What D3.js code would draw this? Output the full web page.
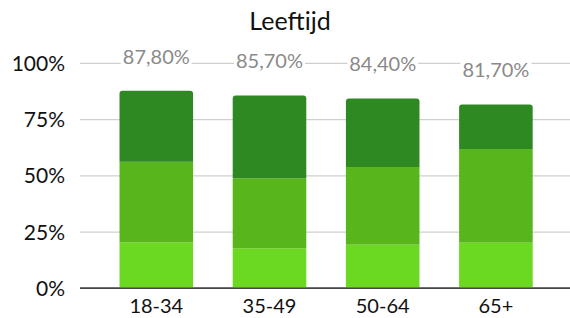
<!DOCTYPE html>
<html>
<head>
<meta charset="utf-8">
<script src="https://cdn.jsdelivr.net/npm/d3@7"></script>
<style>
  body { margin: 0; background: #fff; }
  svg { display: block; }
</style>
</head>
<body>
<div id="chart"></div>
<script>
// Leeftijd - stacked bars per age group

const categories = ["18-34", "35-49", "50-64", "65+"];
const seriesLight = [20.4, 17.8, 19.4, 20.3];
const seriesMid = [35.9, 31.1, 34.5, 41.6];
const seriesDark = [31.5, 36.8, 30.5, 19.8];
const totals = [87.8, 85.7, 84.4, 81.7];
const yTicks = [0, 25, 50, 75, 100];

const colors = ["#6bd821", "#58b51b", "#2f8922"];
const font = "Lato, 'Open Sans', sans-serif";

const width = 570, height = 318;

const svg = d3.select("#chart").append("svg")
    .attr("width", width)
    .attr("height", height);

const x = d3.scaleBand()
    .domain(categories)
    .range([99.7, 552.5])
    .paddingInner(0.35)
    .paddingOuter(0.175);

const y = d3.scaleLinear()
    .domain([0, 100])
    .range([288.3, 63.3]);

// title
svg.append("text")
    .attr("x", 290)
    .attr("y", 30)
    .attr("text-anchor", "middle")
    .attr("font-family", font)
    .attr("font-size", "25px")
    .attr("fill", "#111")
    .text("Leeftijd");

// gridlines + y labels
yTicks.forEach(t => {
    svg.append("line")
        .attr("x1", 80)
        .attr("x2", width)
        .attr("y1", y(t))
        .attr("y2", y(t))
        .attr("stroke", t === 0 ? "#444" : "#cfcfcf")
        .attr("stroke-width", t === 0 ? 1.5 : 1.2);

    svg.append("text")
        .attr("x", 65)
        .attr("y", y(t))
        .attr("dy", "0.36em")
        .attr("text-anchor", "end")
        .attr("font-family", font)
        .attr("font-size", "21px")
        .attr("fill", "#111")
        .text(t + "%");
});

const stack = d3.stack().keys([0, 1, 2]);
const rows = categories.map((c, i) => ({ cat: c, 0: seriesLight[i], 1: seriesMid[i], 2: seriesDark[i] }));
const layers = stack(rows);

// rounded top corners only for the top segment
function topRounded(x0, y0, w, h, r) {
    return `M${x0},${y0 + h}V${y0 + r}Q${x0},${y0} ${x0 + r},${y0}` +
        `H${x0 + w - r}Q${x0 + w},${y0} ${x0 + w},${y0 + r}V${y0 + h}Z`;
}

layers.forEach((layer, k) => {
    layer.forEach((d, i) => {
        const x0 = x(categories[i]);
        const y0 = y(d[1]);
        const h = y(d[0]) - y(d[1]);
        if (k === 2) {
            svg.append("path")
                .attr("d", topRounded(x0, y0, x.bandwidth(), h, 3))
                .attr("fill", colors[k]);
        } else {
            svg.append("rect")
                .attr("x", x0)
                .attr("y", y0)
                .attr("width", x.bandwidth())
                .attr("height", h)
                .attr("fill", colors[k]);
        }
    });
});

// redraw axis line over bars
svg.append("line")
    .attr("x1", 80)
    .attr("x2", width)
    .attr("y1", y(0))
    .attr("y2", y(0))
    .attr("stroke", "#444")
    .attr("stroke-width", 1.5);

// total labels with white box
totals.forEach((v, i) => {
    const cx = x(categories[i]) + x.bandwidth() / 2;
    const g = svg.append("g");
    const txt = g.append("text")
        .attr("x", cx)
        .attr("y", y(v) - 27)
        .attr("text-anchor", "middle")
        .attr("font-family", font)
        .attr("font-size", "20px")
        .attr("fill", "#8a8a8a")
        .text(d3.format(".2f")(v).replace(".", ",") + "%");
    const bb = txt.node().getBBox();
    g.insert("rect", "text")
        .attr("x", bb.x - 2)
        .attr("y", bb.y)
        .attr("width", bb.width + 4)
        .attr("height", bb.height)
        .attr("fill", "#fff");
});

// category labels
categories.forEach(c => {
    svg.append("text")
        .attr("x", x(c) + x.bandwidth() / 2)
        .attr("y", 313)
        .attr("text-anchor", "middle")
        .attr("font-family", font)
        .attr("font-size", "20px")
        .attr("fill", "#111")
        .text(c);
});
</script>
</body>
</html>
